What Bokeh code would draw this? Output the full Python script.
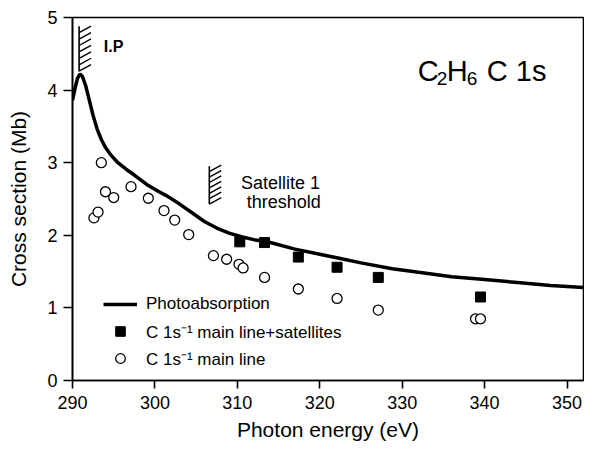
from bokeh.plotting import figure
from bokeh.models import Range1d, FixedTicker, Legend, LegendItem
from bokeh.core.properties import value
from bokeh.embed import file_html
from bokeh.resources import INLINE

# ---------------- data ----------------
curve_energy = [290.0, 290.3, 290.6, 290.9, 291.2, 291.6, 292.0, 292.5, 293.0, 293.5,
                294.0, 294.7, 295.5, 296.5, 297.5, 299.0, 300.5, 301.5, 303.0, 304.5,
                306.0, 307.5, 309.0, 310.5, 312.0, 314.0, 317.0, 320.0, 322.5, 325.0,
                328.8, 332.0, 336.0, 340.0, 344.0, 348.0, 352.0]
curve_xs = [3.86, 4.02, 4.16, 4.22, 4.19, 4.06, 3.88, 3.65, 3.46, 3.32,
            3.21, 3.10, 3.00, 2.91, 2.83, 2.70, 2.60, 2.54, 2.43, 2.31,
            2.19, 2.10, 2.03, 1.98, 1.94, 1.90, 1.81, 1.74, 1.68, 1.62,
            1.54, 1.49, 1.43, 1.39, 1.35, 1.31, 1.28]

main_energy = [292.6, 293.1, 293.5, 294.0, 295.0, 297.1, 299.2, 301.1, 302.4, 304.1,
               307.1, 308.7, 310.2, 310.7, 313.3, 317.4, 322.1, 327.1, 338.9, 339.5]
main_xs = [2.24, 2.32, 3.00, 2.60, 2.52, 2.67, 2.51, 2.34, 2.21, 2.01,
           1.72, 1.67, 1.60, 1.55, 1.42, 1.26, 1.13, 0.97, 0.85, 0.85]

sat_energy = [310.3, 313.3, 317.4, 322.1, 327.1, 339.5]
sat_xs = [1.91, 1.90, 1.70, 1.56, 1.42, 1.15]

x_ticks = [290, 300, 310, 320, 330, 340, 350]
y_ticks = [0, 1, 2, 3, 4, 5]

ip_energy = 290.8          # ionisation potential marker
sat1_energy = 306.6        # satellite 1 threshold marker

FONT = "Liberation Sans"

p = figure(width=584, height=443, output_backend="svg", toolbar_location=None,
           x_range=Range1d(290, 352), y_range=Range1d(0, 5),
           min_border_left=72, min_border_right=1, min_border_top=17, min_border_bottom=62)
p.background_fill_color = "white"
p.border_fill_color = "white"
p.grid.visible = False
p.outline_line_color = "black"
p.outline_line_width = 1.6

for ax in (p.xaxis[0], p.yaxis[0]):
    ax.axis_line_width = 1.6
    ax.major_tick_line_width = 1.6
    ax.major_tick_in = 0
    ax.minor_tick_line_color = None
    ax.major_label_text_font = FONT
    ax.major_label_text_font_size = "18px"
    ax.major_label_text_color = "black"
    ax.axis_label_text_font = FONT
    ax.axis_label_text_font_size = "21px"
    ax.axis_label_text_font_style = "normal"
    ax.axis_label_text_color = "black"

p.xaxis.ticker = FixedTicker(ticks=x_ticks)
p.yaxis.ticker = FixedTicker(ticks=y_ticks)
p.xaxis.axis_label = "Photon energy (eV)"
p.yaxis.axis_label = "Cross section (Mb)"
p.xaxis.major_tick_out = 8
p.yaxis.major_tick_out = 9
p.xaxis.major_label_standoff = 7
p.xaxis.axis_label_standoff = 6
p.yaxis.major_label_standoff = 6
p.yaxis.axis_label_standoff = 14

# curve and points
r_line = p.line(curve_energy, curve_xs, line_color="black", line_width=3.5)
r_sq = p.scatter(sat_energy, sat_xs, marker="square", size=10, fill_color="black",
                 line_color="black", line_width=1)
r_ci = p.scatter(main_energy, main_xs, marker="circle", size=10, fill_color="white",
                 line_color="black", line_width=1.3)

# hatched threshold markers
def hatch(x0, y_bot, y_top, n):
    step = (y_top - y_bot) / n
    xs0, ys0, xs1, ys1 = [], [], [], []
    for k in range(n):
        yb = y_bot + k * step
        xs0.append(x0); ys0.append(yb)
        xs1.append(x0 + 1.45); ys1.append(yb + 0.09)
    p.segment(x0=[x0], y0=[y_bot], x1=[x0], y1=[y_top], line_color="black", line_width=1.6)
    p.segment(x0=xs0, y0=ys0, x1=xs1, y1=ys1, line_color="black", line_width=1.4)

hatch(ip_energy, 4.26, 4.88, 7)
hatch(sat1_energy, 2.43, 2.95, 7)

p.text(x=[293.8], y=[4.60], text=["I.P"], text_font=value(FONT), text_font_size=value("16px"),
       text_font_style="bold", text_baseline="middle", text_align="left", text_color="black")
p.text(x=[310.45, 311.15], y=[2.72, 2.46], text=["Satellite 1", "threshold"],
       text_font=value(FONT), text_font_size=value("18px"), text_baseline="alphabetic",
       text_align="left", text_color="black")

# title C2H6 C 1s with subscripts
tx, ty = 331.9, 4.26
p.text(x=[tx, tx], y=[ty, ty], text=["C", "H"], x_offset=[0, 29], text_font=value(FONT),
       text_font_size=value("29px"), text_baseline="alphabetic", text_color="black")
p.text(x=[tx, tx], y=[ty, ty], text=["2", "6"], x_offset=[19, 49], y_offset=[7, 7],
       text_font=value(FONT), text_font_size=value("19px"), text_baseline="alphabetic",
       text_color="black")
p.text(x=[tx], y=[ty], text=["C 1s"], x_offset=[69], text_font=value(FONT),
       text_font_size=value("29px"), text_baseline="alphabetic", text_color="black")

legend = Legend(items=[
    LegendItem(label="Photoabsorption", renderers=[r_line]),
    LegendItem(label="C 1s\u207b\u00b9 main line+satellites", renderers=[r_sq]),
    LegendItem(label="C 1s\u207b\u00b9 main line", renderers=[r_ci]),
], location=(31, 10))
legend.background_fill_alpha = 0
legend.border_line_color = None
legend.padding = 0
legend.margin = 0
legend.spacing = 3
legend.glyph_width = 34
legend.glyph_height = 24
legend.label_height = 24
legend.label_standoff = 9
legend.label_text_font = FONT
legend.label_text_font_size = "17px"
legend.label_text_color = "black"
p.add_layout(legend, "center")

open("out.html", "w").write(file_html(p, INLINE))
